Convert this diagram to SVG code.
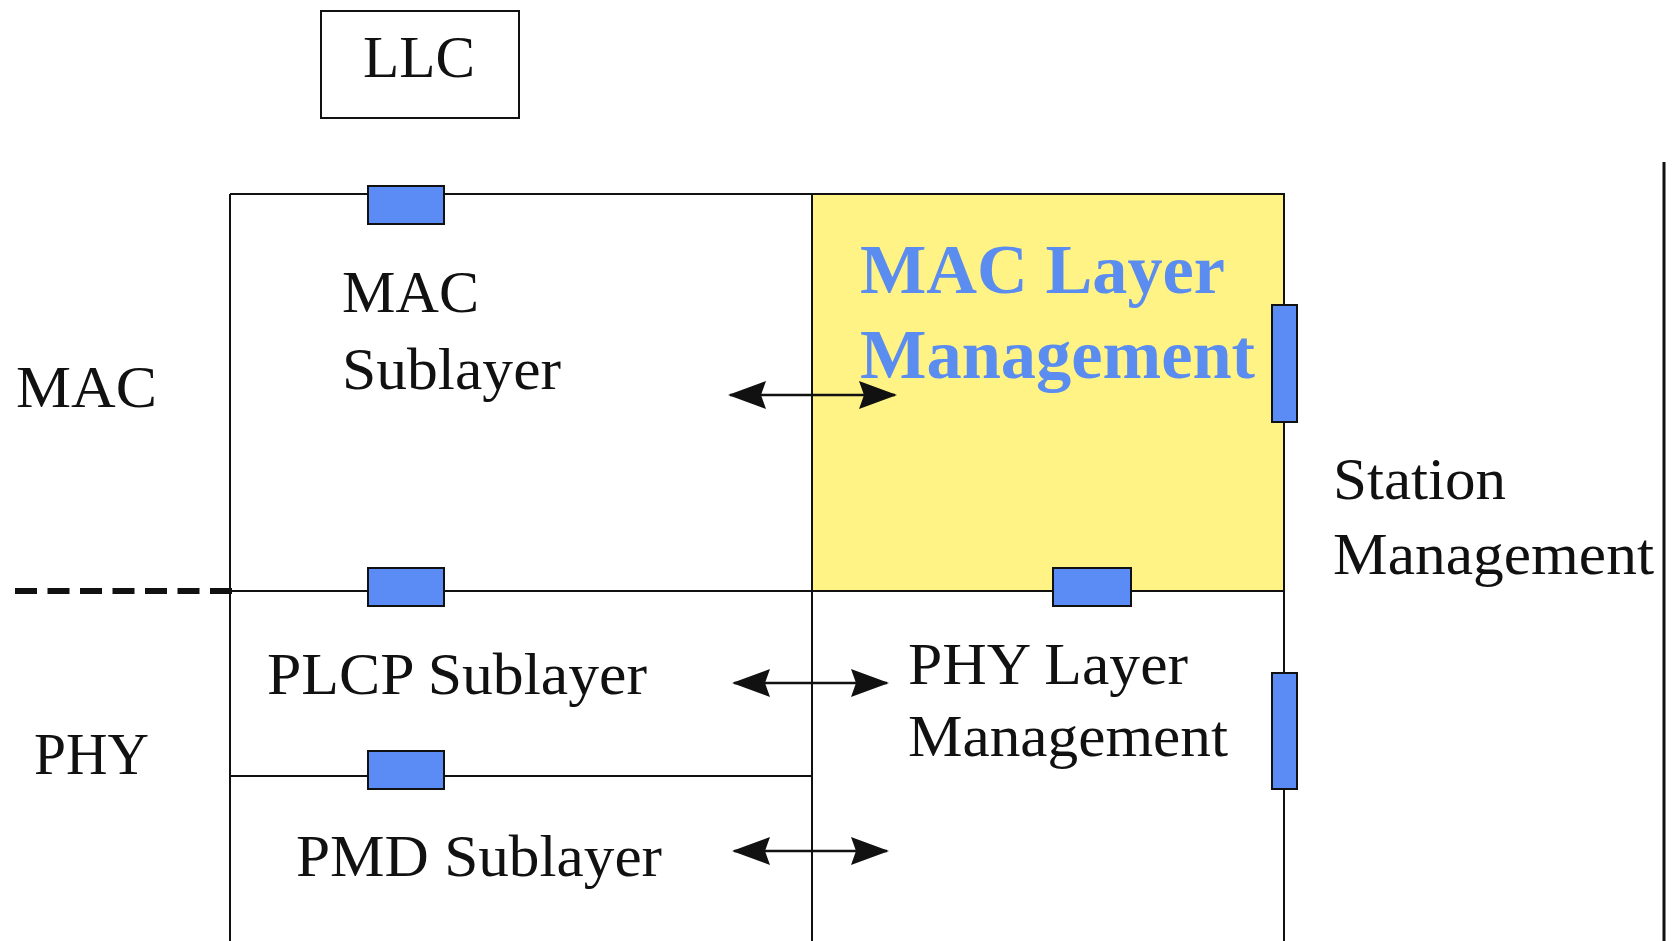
<svg xmlns="http://www.w3.org/2000/svg" width="1675" height="941" viewBox="0 0 1675 941">
  <style>
    .ln { stroke: #111; stroke-width: 2; fill: none; }
    .box { stroke: #111; stroke-width: 2; fill: #fff; }
    .sap { fill: #5B8CF6; stroke: #111; stroke-width: 2; }
    .t { font-family: "Liberation Serif", "Times New Roman", serif; font-size: 60px; fill: #111; }
    .tb { font-family: "Liberation Serif", "Times New Roman", serif; font-size: 70px; font-weight: bold; fill: #5B8CF0; }
    .arr { stroke: #111; stroke-width: 2.5; fill: none; marker-start: url(#head); marker-end: url(#head); }
  </style>
  <defs>
    <marker id="head" viewBox="0 0 38 30" refX="36" refY="15" markerWidth="38" markerHeight="30" markerUnits="userSpaceOnUse" orient="auto-start-reverse">
      <path d="M38,15 L0,1 L5,15 L0,29 Z" fill="#111"/>
    </marker>
  </defs>

  <rect width="1675" height="941" fill="#fff"/>

  <!-- LLC -->
  <g id="llc">
    <rect class="box" x="321" y="11" width="198" height="107"/>
    <text class="t" x="363" y="77" textLength="112" lengthAdjust="spacingAndGlyphs">LLC</text>
  </g>

  <!-- MAC layer management (highlighted) -->
  <g id="mac-layer-mgmt">
    <rect x="812" y="194" width="472" height="397" fill="#FFF385" stroke="#111" stroke-width="2"/>
    <text class="tb" x="860" y="293" textLength="365" lengthAdjust="spacingAndGlyphs">MAC Layer</text>
    <text class="tb" x="860" y="378" textLength="395" lengthAdjust="spacingAndGlyphs">Management</text>
  </g>

  <!-- sublayer frame lines -->
  <g id="frame">
    <line class="ln" x1="230" y1="194" x2="812" y2="194"/>
    <line class="ln" x1="230" y1="194" x2="230" y2="941"/>
    <line class="ln" x1="812" y1="194" x2="812" y2="941"/>
    <line class="ln" x1="1284" y1="591" x2="1284" y2="941"/>
    <line class="ln" x1="230" y1="591" x2="812" y2="591"/>
    <line class="ln" x1="230" y1="776" x2="812" y2="776"/>
    <!-- MAC/PHY boundary, dashed outside the frame -->
    <line x1="232" y1="591" x2="15" y2="591" stroke="#111" stroke-width="6" stroke-dasharray="22 10.5"/>
    <line x1="1664" y1="162" x2="1664" y2="941" stroke="#111" stroke-width="3"/>
  </g>

  <!-- layer labels -->
  <g id="layer-labels">
    <text class="t" x="16" y="407" textLength="141" lengthAdjust="spacingAndGlyphs">MAC</text>
    <text class="t" x="34" y="774" textLength="115" lengthAdjust="spacingAndGlyphs">PHY</text>
  </g>

  <g id="mac-sublayer">
    <text class="t" x="342" y="312" textLength="137" lengthAdjust="spacingAndGlyphs">MAC</text>
    <text class="t" x="342" y="389" textLength="219" lengthAdjust="spacingAndGlyphs">Sublayer</text>
  </g>

  <g id="plcp-sublayer">
    <text class="t" x="267" y="694" textLength="380" lengthAdjust="spacingAndGlyphs">PLCP Sublayer</text>
  </g>

  <g id="pmd-sublayer">
    <text class="t" x="296" y="876" textLength="366" lengthAdjust="spacingAndGlyphs">PMD Sublayer</text>
  </g>

  <g id="phy-layer-mgmt">
    <text class="t" x="908" y="684" textLength="280" lengthAdjust="spacingAndGlyphs">PHY Layer</text>
    <text class="t" x="908" y="756" textLength="320" lengthAdjust="spacingAndGlyphs">Management</text>
  </g>

  <g id="station-mgmt">
    <text class="t" x="1333" y="499" textLength="173" lengthAdjust="spacingAndGlyphs">Station</text>
    <text class="t" x="1333" y="574" textLength="321" lengthAdjust="spacingAndGlyphs">Management</text>
  </g>

  <!-- service access points -->
  <g id="saps">
    <rect class="sap" x="368" y="186" width="76" height="38"/>
    <rect class="sap" x="368" y="568" width="76" height="38"/>
    <rect class="sap" x="368" y="751" width="76" height="38"/>
    <rect class="sap" x="1053" y="568" width="78" height="38"/>
    <rect class="sap" x="1272" y="305" width="25" height="117"/>
    <rect class="sap" x="1272" y="673" width="25" height="116"/>
  </g>

  <!-- management interfaces -->
  <g id="connectors">
    <line class="arr" x1="730" y1="395" x2="895" y2="395"/>
    <line class="arr" x1="734" y1="683" x2="887" y2="683"/>
    <line class="arr" x1="734" y1="851" x2="887" y2="851"/>
  </g>
</svg>
